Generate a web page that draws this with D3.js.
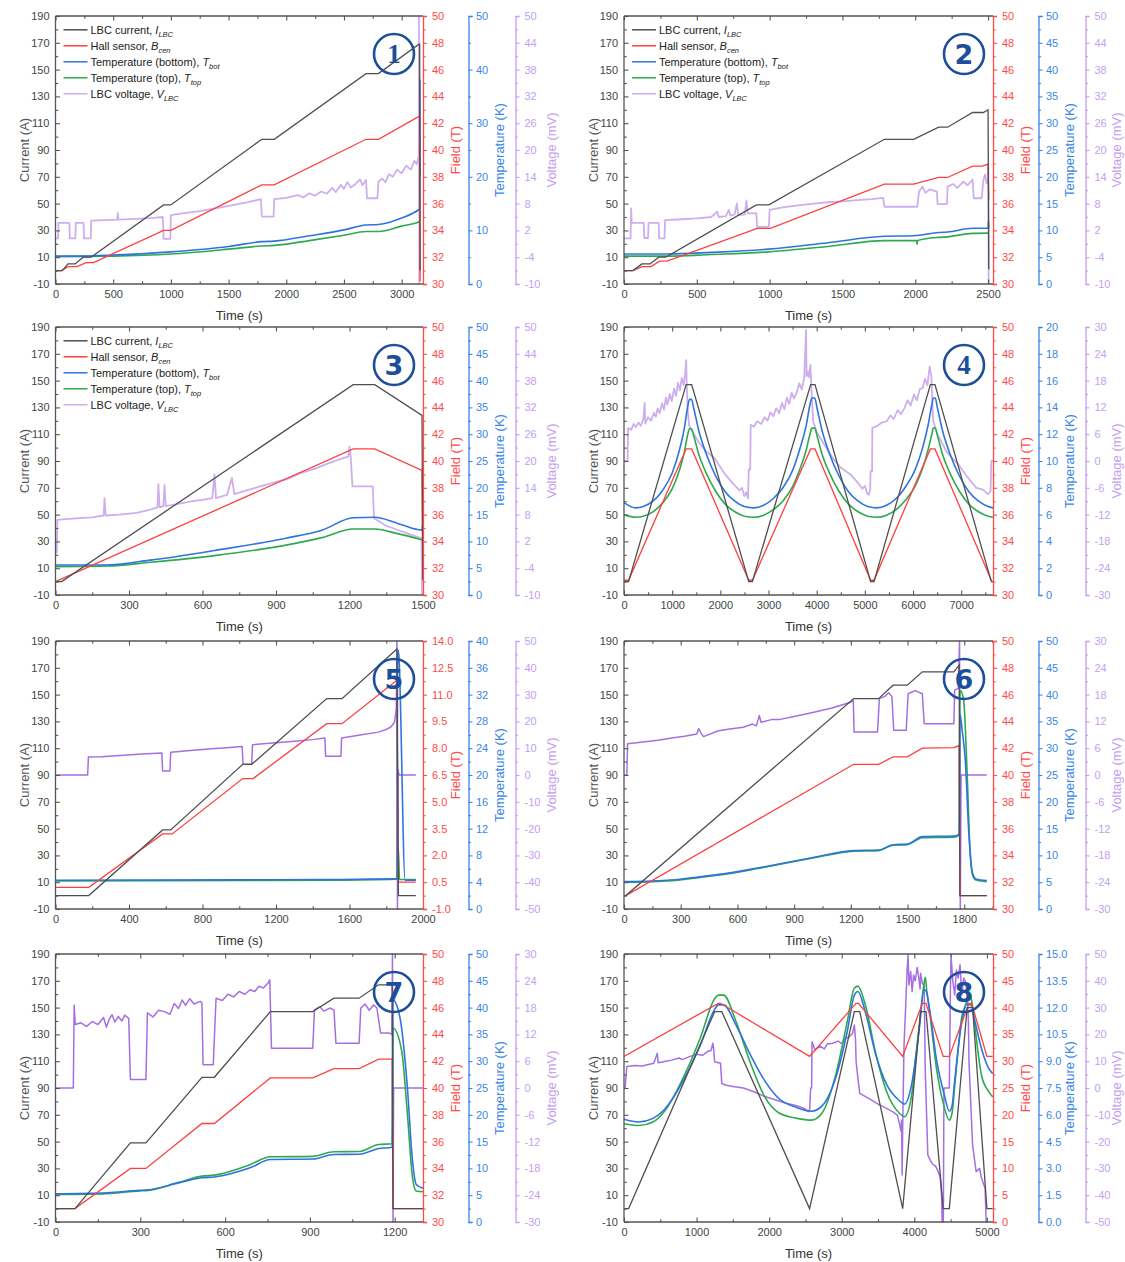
<!DOCTYPE html>
<html>
<head>
<meta charset="utf-8">
<script src="https://cdn.jsdelivr.net/npm/d3@7"></script>
<style>
  body { margin: 0; background: #fff; }
  svg { display: block; }
</style>
</head>
<body>
<svg id="chart" width="1125" height="1262"></svg>
<script>
// ---------- tick values ----------
const currentTicks = [-10, 10, 30, 50, 70, 90, 110, 130, 150, 170, 190];
const p1TimeTicks = [0, 500, 1000, 1500, 2000, 2500, 3000];
const p2TimeTicks = [0, 500, 1000, 1500, 2000, 2500];
const p3TimeTicks = [0, 300, 600, 900, 1200, 1500];
const p4TimeTicks = [0, 1000, 2000, 3000, 4000, 5000, 6000, 7000];
const p5TimeTicks = [0, 400, 800, 1200, 1600, 2000];
const p6TimeTicks = [0, 300, 600, 900, 1200, 1500, 1800];
const p7TimeTicks = [0, 300, 600, 900, 1200];
const p8TimeTicks = [0, 1000, 2000, 3000, 4000, 5000];
const fieldTicks30 = [30, 32, 34, 36, 38, 40, 42, 44, 46, 48, 50];
const fieldTicksLow = [-1, 0.5, 2, 3.5, 5, 6.5, 8, 9.5, 11, 12.5, 14];
const fieldTicks0 = [0, 5, 10, 15, 20, 25, 30, 35, 40, 45, 50];
const tempTicks10 = [0, 10, 20, 30, 40, 50];
const tempTicks5 = [0, 5, 10, 15, 20, 25, 30, 35, 40, 45, 50];
const tempTicks20 = [0, 2, 4, 6, 8, 10, 12, 14, 16, 18, 20];
const tempTicks40 = [0, 4, 8, 12, 16, 20, 24, 28, 32, 36, 40];
const tempTicks15 = [0, 1.5, 3, 4.5, 6, 7.5, 9, 10.5, 12, 13.5, 15];
const voltTicksA = [-10, -4, 2, 8, 14, 20, 26, 32, 38, 44, 50];
const voltTicks30 = [-30, -24, -18, -12, -6, 0, 6, 12, 18, 24, 30];
const voltTicks50 = [-50, -40, -30, -20, -10, 0, 10, 20, 30, 40, 50];

// ---------- legend entries ----------
const legendNames = ["LBC current, ", "Hall sensor, ", "Temperature (bottom), ", "Temperature (top), ", "LBC voltage, "];
const legendSymbols = ["I", "B", "T", "T", "V"];
const legendSubs = ["LBC", "cen", "bot", "top", "LBC"];

// ---------- run 1 ----------
const p1Current = [[0,0],[60,0],[108,5],[170,5],[241,10],[309,10],[937,49],[999,49],[1788,98],[1896,98],[2691,147],[2799,147],[3150,169],[3156,169],[3160,0]];
const p1Field = [[0,31],[50,31],[110,31.3],[185,31.3],[265,31.6],[330,31.6],[937,34.0],[999,34.0],[1788,37.4],[1896,37.4],[2691,40.8],[2799,40.8],[3150,42.5],[3156,42.5],[3160,30.2]];
const p1Tbot = [[0,5.2],[250,5.2],[500,5.4],[1000,6.0],[1500,7.0],[1788,7.9],[1896,8.0],[2200,9.0],[2500,10.1],[2691,11.0],[2799,11.1],[3000,12.3],[3150,13.9],[3156,14.0],[3158,38],[3160,20]];
const p1Ttop = [[0,5.1],[500,5.2],[1000,5.6],[1500,6.5],[1788,7.1],[1896,7.2],[2200,8.1],[2500,9.1],[2691,9.8],[2799,9.8],[3000,10.8],[3150,11.6],[3156,11.7]];
const p1Volt = [[0,0.2],[22,0.2],[25,3.7],[120,3.7],[124,0.2],[172,0.2],[176,3.7],[243,3.7],[247,0.2],[305,0.2],[309,4.2],[420,4.3],[535,4.4],[540,5.9],[545,4.4],[700,4.6],[850,4.8],[930,5.0],[937,0.1],[995,0.1],[1000,5.4],[1100,5.8],[1250,6.3],[1376,6.9],[1500,7.5],[1650,8.2],[1780,9.0],[1788,5.1],[1890,5.1],[1896,9.0],[2000,9.3],[2100,9.9],[2150,9.4],[2200,10.3],[2250,9.8],[2304,10.7],[2350,10.2],[2400,11.5],[2430,10.6],[2474,12.2],[2500,11.3],[2530,12.8],[2560,11.6],[2600,12.4],[2640,13.4],[2660,12.1],[2691,13.3],[2700,9.2],[2790,9.2],[2799,12.9],[2830,13.6],[2860,12.8],[2890,14.6],[2923,14.0],[2960,15.6],[3000,14.8],[3040,16.5],[3080,15.6],[3110,17.6],[3130,16.8],[3145,18.4],[3148,17.5],[3150,50],[3153,-10]];

// ---------- run 2 ----------
const p2Current = [[0,0],[61,0],[123,5],[179,5],[238,10],[287,10],[909,49],[995,49],[1788,98],[1989,98],[2161,107],[2222,107],[2394,118],[2468,118],[2500,120],[2505,1]];
const p2Field = [[0,31],[61,31],[123,31.3],[185,31.3],[245,31.7],[295,31.7],[915,34.15],[1005,34.15],[1788,37.45],[1989,37.45],[2161,37.95],[2222,37.95],[2394,38.8],[2460,38.8],[2500,38.95],[2505,36.3]];
const p2Tbot = [[0,5.6],[300,5.6],[600,5.9],[995,6.5],[1400,7.7],[1788,8.9],[1989,9.0],[2161,9.6],[2222,9.7],[2394,10.4],[2500,10.4],[2503,11.9],[2505,10.4]];
const p2Ttop = [[0,5.2],[300,5.2],[600,5.5],[995,6.0],[1400,7.0],[1788,8.1],[2010,8.1],[2013,7.4],[2016,8.1],[2161,8.7],[2222,8.8],[2394,9.45],[2500,9.5]];
const p2Volt = [[0,0.2],[45,0.2],[49,6.9],[53,3.7],[135,3.7],[140,0.3],[165,0.3],[169,3.7],[238,3.7],[242,0.2],[278,0.2],[282,4.3],[400,4.5],[500,4.7],[600,5.0],[640,6.2],[650,5.0],[700,5.2],[720,6.6],[730,5.3],[760,5.6],[775,8.0],[785,5.4],[830,5.6],[840,8.7],[850,5.8],[909,5.8],[914,2.8],[995,2.8],[1000,6.6],[1100,7.2],[1200,7.6],[1300,8.0],[1400,8.3],[1500,8.5],[1600,8.8],[1700,9.0],[1780,9.3],[1788,7.3],[2014,7.3],[2026,10.7],[2050,11.8],[2070,10.4],[2100,11.2],[2149,10.7],[2153,7.9],[2218,7.9],[2222,11.8],[2260,12.4],[2290,11.5],[2330,12.9],[2360,12.1],[2394,13.4],[2402,9.2],[2456,9.2],[2468,13.3],[2480,14.5],[2490,12.6],[2500,13.3],[2502,16],[2504,-10]];

// ---------- run 3 ----------
const p3Current = [[0,0],[25,0],[1215,147],[1303,147],[1496,124],[1499,1]];
const p3Field = [[0,31],[1215,40.9],[1303,40.9],[1496,39.3],[1498,34]];
const p3Tbot = [[0,5.6],[200,5.6],[387,6.5],[649,8.3],[941,10.6],[1087,12.1],[1215,14.4],[1303,14.5],[1400,13.3],[1496,12.1],[1498,13]];
const p3Ttop = [[0,5.3],[212,5.4],[387,6.1],[649,7.35],[941,9.3],[1087,10.7],[1215,12.3],[1303,12.3],[1400,11.4],[1496,10.3]];
const p3Volt = [[0,-0.5],[5,-0.5],[8,6.8],[40,7.0],[100,7.2],[150,7.4],[197,7.8],[200,11.7],[205,7.8],[260,8.0],[330,8.4],[380,9.0],[416,9.6],[420,14.8],[425,9.6],[440,9.9],[445,14.6],[450,9.9],[500,10.4],[560,11.0],[600,11.3],[640,11.7],[649,17.0],[655,11.7],[700,12.4],[720,16.2],[730,12.6],[780,13.4],[840,14.4],[900,15.3],[941,15.9],[1000,17.3],[1060,18.3],[1100,19.2],[1150,20.2],[1195,21.0],[1200,23.2],[1205,21.0],[1212,14.3],[1295,14.3],[1300,7.2],[1350,5.5],[1400,4.5],[1450,3.5],[1494,2.7],[1496,-10]];

// ---------- run 4 ----------
const p4Current = [[0,0],[95,0],[1290,147],[1405,147],[2590,0],[2665,0],[3875,147],[3965,147],[5120,0],[5190,0],[6360,147],[6455,147],[7625,0],[7660,0]];
const p4Field = [[0,31.1],[95,31.1],[1290,40.9],[1405,40.9],[2590,31.1],[2665,31.1],[3875,40.9],[3965,40.9],[5120,31.1],[5190,31.1],[6360,40.9],[6455,40.9],[7625,31.1]];
const p4Tbot = [[0,6.9],[245,6.5],[400,6.6],[600,7.0],[800,7.8],[1000,9.1],[1150,10.8],[1250,12.4],[1320,14.0],[1360,14.6],[1400,14.6],[1450,13.9],[1550,12.3],[1700,10.6],[1900,8.9],[2100,7.7],[2300,7.0],[2500,6.6],[2700,6.5],[2900,6.7],[3100,7.2],[3300,8.0],[3500,9.3],[3650,10.9],[3780,12.6],[3860,14.2],[3900,14.7],[3960,14.7],[4010,13.9],[4110,12.3],[4260,10.6],[4460,8.9],[4660,7.7],[4860,7.0],[5060,6.6],[5250,6.5],[5450,6.7],[5650,7.2],[5850,8.1],[6050,9.4],[6200,11.0],[6320,12.8],[6390,14.2],[6420,14.7],[6460,14.7],[6510,13.9],[6610,12.3],[6760,10.6],[6960,8.9],[7160,7.7],[7360,7.0],[7560,6.6],[7660,6.5]];
const p4Ttop = [[0,6.0],[245,5.8],[400,5.88],[600,6.21],[800,6.86],[1000,7.92],[1150,9.31],[1250,10.61],[1320,11.92],[1360,12.41],[1400,12.41],[1450,11.84],[1550,10.53],[1700,9.15],[1900,7.76],[2100,6.78],[2300,6.21],[2500,5.88],[2700,5.8],[2900,5.96],[3100,6.37],[3300,7.02],[3500,8.08],[3650,9.39],[3780,10.78],[3860,12.0],[3900,12.45],[3960,12.45],[4010,11.84],[4110,10.53],[4260,9.15],[4460,7.76],[4660,6.78],[4860,6.21],[5060,5.88],[5250,5.8],[5450,5.96],[5650,6.37],[5850,7.1],[6050,8.16],[6200,9.47],[6320,10.94],[6390,12.0],[6420,12.45],[6460,12.45],[6510,11.84],[6610,10.53],[6760,9.15],[6960,7.76],[7160,6.78],[7360,6.21],[7560,5.88],[7660,5.8]];
const p4Volt = [[0,0],[75,0],[80,4],[85,7.4],[150,7.0],[200,8.3],[245,7.6],[300,8.6],[350,7.9],[400,9.4],[430,13.0],[440,8.4],[500,9.8],[560,9.0],[620,10.8],[660,9.9],[700,11.8],[740,10.7],[790,12.9],[830,11.5],[870,14.2],[900,12.6],[950,15.0],[990,13.4],[1040,16.2],[1080,14.6],[1120,17.5],[1160,15.8],[1200,18.6],[1240,17.0],[1270,19.5],[1290,22.6],[1300,18.0],[1320,12.0],[1350,8.0],[1420,6.6],[1550,4.2],[1700,2.2],[1880,0.6],[2100,-3.0],[2250,-4.9],[2400,-6.6],[2450,-6.0],[2500,-7.9],[2540,-7.0],[2575,-8.4],[2590,-1.9],[2620,-1.9],[2630,8.1],[2700,7.7],[2760,8.9],[2849,8.3],[2920,9.8],[2980,9.0],[3040,10.9],[3100,10.0],[3160,11.8],[3221,10.7],[3280,13.0],[3330,11.6],[3380,14.2],[3430,12.8],[3480,15.3],[3530,14.0],[3593,15.6],[3640,17.4],[3690,16.0],[3740,18.5],[3779,29.4],[3790,19.0],[3816,20.0],[3840,18.8],[3870,21.5],[3900,14.0],[3928,8.9],[4000,6.5],[4150,3.8],[4337,0.6],[4500,-1.5],[4709,-3.1],[4850,-4.8],[4950,-6.2],[5000,-5.6],[5050,-7.3],[5081,-7.6],[5110,-6.5],[5118,-2.3],[5150,-2.3],[5155,7.4],[5250,7.8],[5350,8.6],[5453,8.9],[5530,10.2],[5600,9.4],[5680,11.4],[5750,10.5],[5825,11.9],[5890,13.6],[5950,12.4],[6020,14.9],[6080,13.6],[6140,16.1],[6197,16.3],[6250,18.4],[6300,17.0],[6345,21.2],[6380,19.0],[6419,8.9],[6500,6.2],[6700,2.0],[6941,-0.8],[7100,-3.2],[7313,-6.0],[7450,-6.4],[7550,-7.4],[7610,-6.8],[7625,0],[7660,0]];

// ---------- run 5 ----------
const p5Current = [[0,0],[181,0],[583,49],[627,49],[1019,98],[1068,98],[1476,147],[1559,147],[1858,184],[1866,0],[1961,0]];
const p5Field = [[0,0.21],[181,0.21],[583,3.2],[635,3.2],[1019,6.3],[1075,6.3],[1476,9.37],[1559,9.37],[1858,11.8],[1866,0.5],[1961,0.5]];
const p5Tbot = [[0,4.3],[1000,4.35],[1500,4.4],[1850,4.5],[1858,4.5],[1862,38.7],[1868,38.0],[1903,4.3],[1961,4.3]];
const p5Ttop = [[0,4.2],[1000,4.25],[1500,4.3],[1850,4.45],[1862,4.5],[1866,9.0],[1872,4.4],[1961,4.4]];
const p5Volt = [[0,0],[175,0],[179,6.7],[250,6.8],[350,7.3],[450,7.7],[579,8.2],[583,1.5],[623,1.5],[627,8.5],[750,9.2],[850,9.8],[950,10.3],[1016,10.6],[1020,4.0],[1068,4.0],[1072,11.3],[1200,12.0],[1300,12.6],[1400,13.2],[1466,13.8],[1470,7.0],[1553,7.0],[1557,13.8],[1650,14.8],[1757,16.0],[1800,17.0],[1825,17.9],[1845,19.7],[1855,25],[1858,50],[1861,-50],[1864,2],[1870,0],[1961,0]];

// ---------- run 6 ----------
const p6Current = [[0,0],[10,0],[1215,147],[1347,147],[1423,157],[1499,157],[1578,167],[1745,167],[1773,172],[1777,0],[1919,0]];
const p6Field = [[0,31],[10,31],[1215,40.8],[1347,40.8],[1423,41.35],[1499,41.35],[1578,42.0],[1745,42.05],[1773,42.2],[1777,31],[1919,31]];
const p6Tbot = [[0,5.1],[150,5.2],[252,5.4],[400,6.0],[536,6.6],[700,7.6],[820,8.4],[1000,9.6],[1215,10.9],[1347,11.0],[1423,12.0],[1499,12.1],[1578,13.5],[1745,13.6],[1773,13.9],[1777,36.4],[1790,33],[1805,28],[1824,14.3],[1843,6.8],[1862,5.6],[1919,5.3]];
const p6Ttop = [[0,5.0],[150,5.1],[252,5.3],[400,5.9],[536,6.5],[700,7.5],[820,8.3],[1000,9.5],[1215,10.8],[1347,10.9],[1423,11.9],[1499,12.0],[1578,13.3],[1745,13.4],[1773,13.8],[1777,40.8],[1796,39.2],[1815,25.5],[1830,11.2],[1844,6.3],[1862,5.4],[1919,5.1]];
const p6Volt = [[0,0],[15,0],[19,7.0],[100,7.4],[180,7.8],[252,8.3],[320,8.7],[385,9.2],[395,10.4],[404,9.6],[420,8.6],[500,9.9],[560,10.3],[631,10.7],[680,11.4],[700,11.0],[716,13.3],[725,11.8],[780,12.4],[820,12.4],[900,13.1],[1010,14.1],[1100,15.0],[1199,16.3],[1213,16.7],[1217,9.6],[1341,9.6],[1351,17.1],[1380,17.6],[1400,18.4],[1417,17.6],[1427,10.0],[1493,10.0],[1503,18.2],[1540,18.9],[1578,18.2],[1588,11.5],[1745,11.5],[1749,19.0],[1768,19.4],[1775,30],[1779,-30],[1783,0],[1919,0]];

// ---------- run 7 ----------
const p7Current = [[0,0],[69,0],[265,49],[320,49],[518,98],[562,98],[760,147],[910,147],[985,157],[1074,157],[1143,167],[1191,167],[1194,0],[1300,0]];
const p7Field = [[0,31],[69,31],[265,34.0],[320,34.0],[518,37.35],[562,37.35],[760,40.75],[910,40.75],[985,41.45],[1074,41.45],[1143,42.15],[1191,42.15],[1194,31],[1300,31]];
const p7Tbot = [[0,5.27],[183,5.46],[297,5.9],[320,5.95],[436,7.3],[518,8.25],[562,8.4],[688,10.1],[760,11.66],[910,11.75],[985,12.6],[1074,12.65],[1143,13.7],[1191,13.96],[1194,41.4],[1219,38],[1244,25.6],[1263,11.35],[1276,7.0],[1301,6.3]];
const p7Ttop = [[0,5.15],[183,5.3],[297,5.8],[320,5.85],[436,7.4],[518,8.56],[562,8.75],[688,10.7],[760,12.16],[910,12.25],[985,13.1],[1074,13.15],[1143,14.45],[1191,14.6],[1194,36.2],[1225,31.8],[1244,20.7],[1263,8.25],[1276,5.8],[1301,5.65]];
const p7Volt = [[0,0],[63,0],[66,18.6],[70,14.2],[90,14.6],[110,13.8],[130,14.9],[150,14.2],[170,15.8],[180,13.6],[190,15.4],[200,16.4],[210,14.8],[222,16.0],[235,15.0],[245,16.3],[259,15.6],[265,1.9],[320,1.9],[325,16.8],[345,15.9],[365,17.4],[385,17.1],[405,16.5],[420,18.9],[435,17.8],[448,19.7],[460,18.5],[475,20.0],[490,18.8],[512,19.4],[518,19.0],[522,5.2],[558,5.2],[568,20.1],[590,19.6],[610,21.0],[630,20.4],[650,21.6],[670,21.0],[688,22.0],[705,21.6],[720,22.8],[735,22.4],[752,23.5],[758,24.2],[764,8.9],[910,8.9],[916,17.5],[935,18.2],[950,17.2],[970,17.9],[985,17.5],[992,10.0],[1074,10.0],[1080,17.9],[1095,18.8],[1110,17.4],[1125,18.6],[1137,17.9],[1150,12.3],[1181,12.3],[1190,12],[1192,30],[1194,-30],[1196,0],[1300,0]];

// ---------- run 8 ----------
const p8Current = [[0,0],[64,0],[1249,147],[1347,147],[2557,0],[3174,147],[3248,147],[3840,0],[4087,147],[4161,147],[4398,0],[4482,0],[4728,150],[4803,150],[5000,0],[5080,0]];
const p8Field = [[0,30.9],[1298,40.8],[1330,40.8],[2557,30.9],[3198,40.8],[3230,40.8],[3840,30.9],[4111,40.8],[4161,40.8],[4398,30.9],[4482,30.9],[4753,40.8],[4790,40.8],[5000,30.9],[5080,30.9]];
const p8Tbot = [[0,5.75],[200,5.6],[400,5.8],[558,6.3],[854,8.2],[1051,9.9],[1249,11.9],[1300,12.15],[1372,12.15],[1545,11.0],[1742,9.35],[1940,7.9],[2137,6.9],[2384,6.4],[2581,6.2],[2729,6.5],[2927,8.2],[3075,10.65],[3174,12.7],[3223,12.9],[3322,11.8],[3470,9.35],[3618,7.7],[3791,6.8],[3865,6.6],[3963,7.7],[4062,10.6],[4136,13.0],[4165,12.9],[4210,11.9],[4309,9.0],[4408,7.2],[4482,6.2],[4520,6.5],[4556,7.9],[4654,11.2],[4728,12.2],[4790,12.1],[4827,11.4],[4926,9.7],[5025,8.6],[5080,8.3]];
const p8Ttop = [[0,5.5],[200,5.4],[400,5.6],[558,6.2],[854,8.4],[1051,10.3],[1249,12.5],[1300,12.7],[1372,12.7],[1545,11.2],[1742,8.9],[1940,7.0],[2137,6.1],[2384,5.8],[2581,5.7],[2729,6.1],[2927,8.4],[3075,11.2],[3174,13.1],[3223,13.2],[3322,12.2],[3470,9.4],[3618,7.3],[3791,6.1],[3865,5.9],[3963,7.1],[4062,10.8],[4136,13.4],[4151,13.7],[4170,13.0],[4210,11.8],[4309,8.5],[4408,6.5],[4482,5.7],[4520,6.1],[4556,7.6],[4654,11.5],[4728,12.5],[4743,12.9],[4790,12.4],[4827,11.2],[4926,8.2],[5025,7.3],[5080,7.0]];
const p8Volt = [[0,0],[15,0],[39,8.0],[150,8.4],[250,8.2],[410,9.2],[459,13.0],[470,9.4],[560,9.9],[656,10.4],[760,11.2],[800,10.6],[903,11.7],[1000,12.6],[1080,12.2],[1150,13.6],[1200,14.0],[1224,16.7],[1235,14.8],[1249,9.8],[1330,9.2],[1347,1.7],[1397,1.1],[1500,0.6],[1644,0],[1800,-1.5],[1940,-3.2],[2100,-4.6],[2236,-5.7],[2380,-6.6],[2483,-7.6],[2540,-8.8],[2557,-8.2],[2572,0],[2585,0],[2591,17.3],[2631,14.2],[2700,15.6],[2760,14.6],[2800,16.4],[2878,16.7],[2950,17.5],[3000,16.6],[3050,18.5],[3100,19.0],[3149,20.4],[3174,23.5],[3190,18],[3198,9.8],[3223,3.6],[3248,-2],[3371,-3.9],[3500,-6],[3618,-7.6],[3700,-8.8],[3766,-10.1],[3800,-13.8],[3815,-16],[3825,-12],[3832,-32.5],[3840,-14],[3858,16],[3880,29.7],[3900,44],[3914,49.6],[3925,38.4],[3950,43.5],[3970,36],[3990,42.2],[4013,40],[4040,45],[4062,41],[4080,37],[4087,42.8],[4110,39],[4136,38.4],[4150,7.3],[4186,-25],[4220,-27],[4260,-28.7],[4290,-29],[4309,-30],[4340,-32],[4358,-33.7],[4375,-40],[4383,-50],[4400,-50],[4408,0],[4482,0],[4497,36],[4506,49.6],[4530,40],[4556,34.7],[4580,44],[4605,41],[4630,46],[4654,34.7],[4680,41],[4704,39.7],[4730,35],[4745,25],[4753,9.8],[4803,-21.3],[4852,-31.2],[4900,-30],[4926,-33.7],[4975,-37.4],[4990,-50],[5010,-50]];

// ---------- layout & style ----------
const FONT = '"Liberation Sans", Arial, Helvetica, sans-serif';
const colLeft = [55.5, 624];
const colRight = [423, 993];
const voltTitleGap = [128.5, 123.5];
const rowTop = [16, 327, 641, 954];
const plotH = 268;
const tempOffset = 45.5;
const voltOffset = 92.5;
const COLORS = {
  frame: "#555555", text: "#444444",
  current: "#4f4f4f", field: "#ff3f3f", tbot: "#2f74de", ttop: "#2ea94f",
  voltLight: "#cdafee", voltDark: "#a56fe3",
  fieldAxis: "#ff4a4a", tempAxis: "#3a86e6", voltAxis: "#c59ef0",
  badge: "#1c4e9a"
};

const fmtInt = v => String(v);
const fmt1 = v => v.toFixed(1);

const panels = [
  {n: 1, col: 0, row: 0, tMax: 3185, tTicks: p1TimeTicks, fDom: [30, 50], fTicks: fieldTicks30, fFmt: fmtInt,
   kDom: [0, 50], kTicks: tempTicks10, kFmt: fmtInt, vDom: [-10, 50], vTicks: voltTicksA,
   data: [p1Current, p1Field, p1Tbot, p1Ttop, p1Volt], legend: true, dark: false, serif: true},
  {n: 2, col: 1, row: 0, tMax: 2534, tTicks: p2TimeTicks, fDom: [30, 50], fTicks: fieldTicks30, fFmt: fmtInt,
   kDom: [0, 50], kTicks: tempTicks5, kFmt: fmtInt, vDom: [-10, 50], vTicks: voltTicksA,
   data: [p2Current, p2Field, p2Tbot, p2Ttop, p2Volt], legend: true, dark: false, serif: false},
  {n: 3, col: 0, row: 1, tMax: 1500, tTicks: p3TimeTicks, fDom: [30, 50], fTicks: fieldTicks30, fFmt: fmtInt,
   kDom: [0, 50], kTicks: tempTicks5, kFmt: fmtInt, vDom: [-10, 50], vTicks: voltTicksA,
   data: [p3Current, p3Field, p3Tbot, p3Ttop, p3Volt], legend: true, dark: false, serif: false},
  {n: 4, col: 1, row: 1, tMax: 7660, tTicks: p4TimeTicks, fDom: [30, 50], fTicks: fieldTicks30, fFmt: fmtInt,
   kDom: [0, 20], kTicks: tempTicks20, kFmt: fmtInt, vDom: [-30, 30], vTicks: voltTicks30,
   data: [p4Current, p4Field, p4Tbot, p4Ttop, p4Volt], legend: false, dark: false, serif: true},
  {n: 5, col: 0, row: 2, tMax: 2000, tTicks: p5TimeTicks, fDom: [-1, 14], fTicks: fieldTicksLow, fFmt: fmt1,
   kDom: [0, 40], kTicks: tempTicks40, kFmt: fmtInt, vDom: [-50, 50], vTicks: voltTicks50,
   data: [p5Current, p5Field, p5Tbot, p5Ttop, p5Volt], legend: false, dark: true, serif: false},
  {n: 6, col: 1, row: 2, tMax: 1952, tTicks: p6TimeTicks, fDom: [30, 50], fTicks: fieldTicks30, fFmt: fmtInt,
   kDom: [0, 50], kTicks: tempTicks5, kFmt: fmtInt, vDom: [-30, 30], vTicks: voltTicks30,
   data: [p6Current, p6Field, p6Tbot, p6Ttop, p6Volt], legend: false, dark: true, serif: false},
  {n: 7, col: 0, row: 3, tMax: 1300, tTicks: p7TimeTicks, fDom: [30, 50], fTicks: fieldTicks30, fFmt: fmtInt,
   kDom: [0, 50], kTicks: tempTicks5, kFmt: fmtInt, vDom: [-30, 30], vTicks: voltTicks30,
   data: [p7Current, p7Field, p7Tbot, p7Ttop, p7Volt], legend: false, dark: true, serif: false},
  {n: 8, col: 1, row: 3, tMax: 5084, tTicks: p8TimeTicks, fDom: [0, 50], fTicks: fieldTicks0, fFmt: fmtInt,
   kDom: [0, 15], kTicks: tempTicks15, kFmt: fmt1, vDom: [-50, 50], vTicks: voltTicks50,
   data: [p8Current, p8Field, p8Tbot, p8Ttop, p8Volt], legend: false, dark: true, serif: false}
];

const svg = d3.select("#chart");
svg.append("rect").attr("width", 1125).attr("height", 1262).attr("fill", "#fff");

// minor ticks sit halfway between the labelled ones
function minorTicks(major, dom) {
  const step = major[1] - major[0];
  const out = [];
  for (let k = -1; k <= major.length + 1; k++) {
    const v = major[0] + (k + 0.5) * step;
    if (v >= dom[0] - 1e-9 && v <= dom[1] + 1e-9) out.push(+v.toFixed(6));
  }
  return out;
}

function styleAxis(sel, lineColor, textColor, showDomain) {
  sel.attr("font-size", null).attr("font-family", null);
  if (showDomain) sel.select(".domain").attr("stroke", lineColor).attr("stroke-width", 1.3);
  else sel.select(".domain").remove();
  sel.selectAll(".tick line").attr("stroke", lineColor).attr("stroke-width", 1.1);
  sel.selectAll(".tick text").attr("fill", textColor).attr("font-size", 11).attr("font-family", FONT);
}

function drawPanel(p) {
  const L = colLeft[p.col], R = colRight[p.col];
  const T = rowTop[p.row], B = T + plotH;
  const midY = (T + B) / 2;

  const x = d3.scaleLinear().domain([0, p.tMax]).range([L, R]);
  const yI = d3.scaleLinear().domain([-10, 190]).range([B, T]);
  const yB = d3.scaleLinear().domain(p.fDom).range([B, T]);
  const yK = d3.scaleLinear().domain(p.kDom).range([B, T]);
  const yV = d3.scaleLinear().domain(p.vDom).range([B, T]);

  const g = svg.append("g").attr("class", "panel-" + p.n);
  const clipId = "plotclip" + p.n;
  g.append("clipPath").attr("id", clipId)
    .append("rect").attr("x", L).attr("y", T - 1).attr("width", R - L).attr("height", plotH + 2);

  // traces
  const [cur, fld, tb, tt, volt] = p.data;
  const plot = g.append("g").attr("clip-path", `url(#${clipId})`);
  const mk = (ys, curve) => d3.line().x(d => x(d[0])).y(d => ys(d[1])).curve(curve || d3.curveLinear);
  plot.append("path").datum(volt).attr("d", mk(yV))
    .attr("fill", "none").attr("stroke", p.dark ? COLORS.voltDark : COLORS.voltLight)
    .attr("stroke-width", p.dark ? 1.5 : 1.8).attr("stroke-linejoin", "round");
  plot.append("path").datum(tt).attr("d", mk(yK, d3.curveMonotoneX))
    .attr("fill", "none").attr("stroke", COLORS.ttop).attr("stroke-width", 1.6);
  plot.append("path").datum(tb).attr("d", mk(yK, d3.curveMonotoneX))
    .attr("fill", "none").attr("stroke", COLORS.tbot).attr("stroke-width", 1.6);
  plot.append("path").datum(fld).attr("d", mk(yB))
    .attr("fill", "none").attr("stroke", COLORS.field).attr("stroke-width", 1.3);
  plot.append("path").datum(cur).attr("d", mk(yI))
    .attr("fill", "none").attr("stroke", COLORS.current).attr("stroke-width", 1.3);

  // bottom axis (ticks point into the plot)
  const xb = g.append("g").attr("transform", `translate(0,${B})`)
    .call(d3.axisBottom(x).tickValues(p.tTicks).tickFormat(fmtInt).tickSizeInner(-4.5).tickSizeOuter(0).tickPadding(6.5));
  styleAxis(xb, COLORS.frame, COLORS.text, true);
  xb.select(".domain").attr("d", `M${L},0H${R}`);
  const xbm = g.append("g").attr("transform", `translate(0,${B})`)
    .call(d3.axisBottom(x).tickValues(minorTicks(p.tTicks, [0, p.tMax])).tickFormat("").tickSizeInner(-2.8).tickSizeOuter(0));
  styleAxis(xbm, COLORS.frame, COLORS.text, false);

  // top frame
  const xt = g.append("g").attr("transform", `translate(0,${T})`)
    .call(d3.axisTop(x).tickValues(p.tTicks).tickFormat("").tickSizeInner(-4.5).tickSizeOuter(0));
  styleAxis(xt, COLORS.frame, COLORS.text, true);
  xt.select(".domain").attr("d", `M${L},0H${R}`);
  const xtm = g.append("g").attr("transform", `translate(0,${T})`)
    .call(d3.axisTop(x).tickValues(minorTicks(p.tTicks, [0, p.tMax])).tickFormat("").tickSizeInner(-2.8).tickSizeOuter(0));
  styleAxis(xtm, COLORS.frame, COLORS.text, false);

  // current axis (left)
  const yl = g.append("g").attr("transform", `translate(${L},0)`)
    .call(d3.axisLeft(yI).tickValues(currentTicks).tickFormat(fmtInt).tickSizeInner(-4.5).tickSizeOuter(0).tickPadding(6));
  styleAxis(yl, COLORS.frame, COLORS.text, true);
  yl.select(".domain").attr("d", `M0,${B}V${T}`);
  const ylm = g.append("g").attr("transform", `translate(${L},0)`)
    .call(d3.axisLeft(yI).tickValues(minorTicks(currentTicks, [-10, 190])).tickFormat("").tickSizeInner(-2.8).tickSizeOuter(0));
  styleAxis(ylm, COLORS.frame, COLORS.text, false);

  // field, temperature and voltage axes on the right
  const rightAxis = (scale, ticks, fmt, dom, xPos, color, pad) => {
    const a = g.append("g").attr("transform", `translate(${xPos},0)`)
      .call(d3.axisRight(scale).tickValues(ticks).tickFormat(fmt).tickSizeInner(4).tickSizeOuter(4).tickPadding(pad));
    styleAxis(a, color, color, true);
    const m = g.append("g").attr("transform", `translate(${xPos},0)`)
      .call(d3.axisRight(scale).tickValues(minorTicks(ticks, dom)).tickFormat("").tickSizeInner(2.5).tickSizeOuter(0));
    styleAxis(m, color, color, false);
  };
  rightAxis(yB, p.fTicks, p.fFmt, p.fDom, R, COLORS.fieldAxis, 5);
  rightAxis(yK, p.kTicks, p.kFmt, p.kDom, R + tempOffset, COLORS.tempAxis, 3.5);
  rightAxis(yV, p.vTicks, fmtInt, p.vDom, R + voltOffset, COLORS.voltAxis, 5);

  // axis titles
  const title = (tx, ty, txt, color, rotate) => {
    const t = g.append("text").attr("x", tx).attr("y", ty)
      .attr("text-anchor", "middle").attr("dominant-baseline", "central")
      .attr("font-family", FONT).attr("font-size", 13).attr("fill", color).text(txt);
    if (rotate) t.attr("transform", `rotate(-90,${tx},${ty})`);
  };
  title((L + R) / 2, B + 31.5, "Time (s)", "#333", false);
  title(L - 31, midY, "Current (A)", "#555", true);
  title(R + 32, midY, "Field (T)", COLORS.fieldAxis, true);
  title(R + 76, midY, "Temperature (K)", COLORS.tempAxis, true);
  title(R + voltTitleGap[p.col], midY, "Voltage (mV)", COLORS.voltAxis, true);

  // legend
  if (p.legend) {
    const legColors = [COLORS.current, COLORS.field, COLORS.tbot, COLORS.ttop, COLORS.voltLight];
    legendNames.forEach((name, i) => {
      const ly = T + 13.8 + i * 16;
      g.append("line").attr("x1", L + 8).attr("x2", L + 32).attr("y1", ly).attr("y2", ly)
        .attr("stroke", legColors[i]).attr("stroke-width", 1.5);
      const t = g.append("text").attr("x", L + 35).attr("y", ly + 4)
        .attr("font-family", FONT).attr("font-size", 11).attr("fill", "#222");
      t.append("tspan").text(name);
      t.append("tspan").attr("font-style", "italic").text(legendSymbols[i]);
      t.append("tspan").attr("font-style", "italic").attr("font-size", 7.5).attr("dy", 3).text(legendSubs[i]);
    });
  }

  // run number badge
  const bx = R - 29, by = T + 38;
  g.append("circle").attr("cx", bx).attr("cy", by).attr("r", 20)
    .attr("fill", "none").attr("stroke", COLORS.badge).attr("stroke-width", 2.6);
  g.append("text").attr("x", bx).attr("y", by).attr("text-anchor", "middle").attr("dominant-baseline", "central")
    .attr("font-family", p.serif ? '"Liberation Serif", "DejaVu Serif", serif' : '"DejaVu Sans", "Liberation Sans", sans-serif')
    .attr("font-weight", "bold").attr("font-size", 27).attr("fill", COLORS.badge).text(String(p.n));
}

panels.forEach(drawPanel);
</script>
</body>
</html>
